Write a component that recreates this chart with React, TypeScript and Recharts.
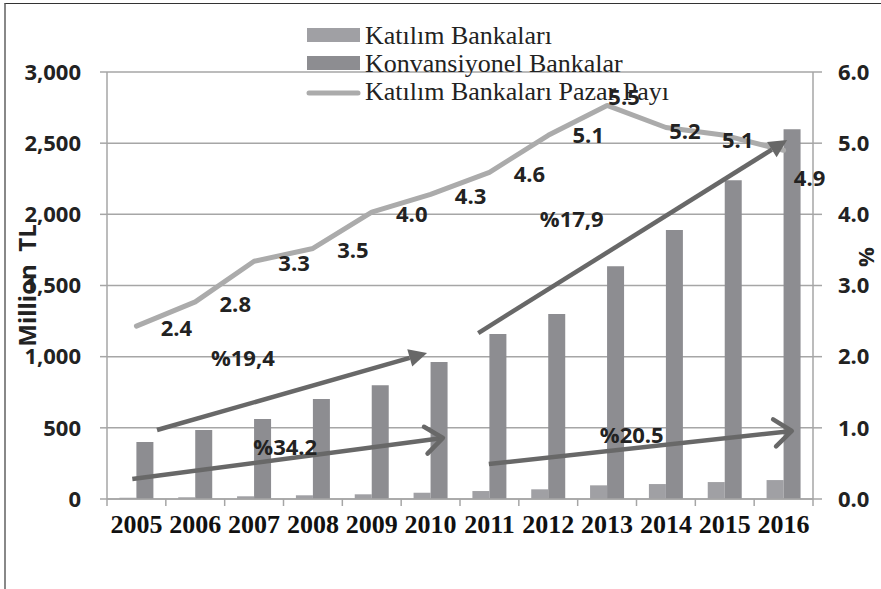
import React from 'react';
import {
  ComposedChart,
  Bar,
  Line,
  XAxis,
  YAxis,
  CartesianGrid,
  Legend,
  ReferenceLine,
  ReferenceDot,
  LabelList,
} from 'recharts';

// chart values
const years = ['2005', '2006', '2007', '2008', '2009', '2010', '2011', '2012', '2013', '2014', '2015', '2016'];
const katilimBankalari = [8, 12, 19, 26, 33, 44, 56, 68, 96, 105, 119, 133];
const konvansiyonelBankalar = [400, 485, 562, 702, 800, 962, 1160, 1300, 1636, 1890, 2240, 2598];
const pazarPayi = [2.43, 2.77, 3.34, 3.52, 4.03, 4.28, 4.59, 5.11, 5.53, 5.22, 5.11, 4.9];
const leftTicks = [0, 500, 1000, 1500, 2000, 2500, 3000];
const rightTicks = [0, 1, 2, 3, 4, 5, 6];

// growth arrows, in (category index, Million TL) units
const growthArrows = [
  { from: [-0.07, 140], to: [5.21, 429], head: 'open', text: '%34.2', at: [2.53, 365] },
  { from: [0.35, 485], to: [4.94, 1026], head: 'solid', text: '%19,4', at: [1.81, 991] },
  { from: [5.81, 1166], to: [11.06, 2522], head: 'solid', text: '%17,9', at: [7.4, 1967] },
  { from: [5.99, 246], to: [11.14, 478], head: 'open', text: '%20.5', at: [8.42, 450] },
];

const data = years.map((year, i) => ({
  year,
  pos: i,
  katilim: katilimBankalari[i],
  konvansiyonel: konvansiyonelBankalar[i],
  pay: pazarPayi[i],
}));

const W = 881;
const H = 589;
const PLOT_LEFT = 107;
const PLOT_RIGHT = 813;
const STEP = (PLOT_RIGHT - PLOT_LEFT) / years.length;

const GRID = '#a6a6a6';
const DARK = '#222';
const SANS = '"Open Sans", "Noto Sans", sans-serif';
const SERIF = '"Liberation Serif", "DejaVu Serif", serif';

// where each share label sits, relative to its point
const LABEL_SHIFT = [
  [40, 2], [40, 2], [40, 2], [40, 2], [40, 2], [40, 2],
  [40, 2], [40, 0], [17, -8], [19, 3], [13, 5], [26, 28],
];

const numStyle = { fontFamily: SANS, fontSize: 22, fontWeight: 700, fill: DARK };

function YearTick(props: any) {
  const { x, y, payload, index } = props;
  const half = STEP / 2;
  return (
    <g>
      <line x1={x - half} x2={x - half} y1={y} y2={y + 7} stroke={GRID} strokeWidth={1.5} />
      {index === years.length - 1 && (
        <line x1={x + half} x2={x + half} y1={y} y2={y + 7} stroke={GRID} strokeWidth={1.5} />
      )}
      <text x={x} y={y + 34} textAnchor="middle" fontFamily={SERIF} fontSize={26} fontWeight={700} fill="#111">
        {payload.value}
      </text>
    </g>
  );
}

function Arrow(props: any) {
  const { x1, y1, x2, y2, head } = props;
  const ang = Math.atan2(y2 - y1, x2 - x1);
  const color = '#686868';
  if (head === 'open') {
    const len = 22;
    const spread = (38 * Math.PI) / 180;
    const ax = x2 - len * Math.cos(ang - spread);
    const ay = y2 - len * Math.sin(ang - spread);
    const bx = x2 - len * Math.cos(ang + spread);
    const by = y2 - len * Math.sin(ang + spread);
    return (
      <g>
        <line x1={x1} y1={y1} x2={x2 - 2 * Math.cos(ang)} y2={y2 - 2 * Math.sin(ang)} stroke={color} strokeWidth={4.5} />
        <polyline points={`${ax},${ay} ${x2},${y2} ${bx},${by}`} fill="none" stroke={color} strokeWidth={4.5} strokeLinecap="round" strokeLinejoin="round" />
      </g>
    );
  }
  const len = 18;
  const hw = 9;
  const bx = x2 - len * Math.cos(ang);
  const by = y2 - len * Math.sin(ang);
  const px = -Math.sin(ang) * hw;
  const py = Math.cos(ang) * hw;
  return (
    <g>
      <line x1={x1} y1={y1} x2={bx} y2={by} stroke={color} strokeWidth={4.5} />
      <polygon points={`${x2},${y2} ${bx + px},${by + py} ${bx - px},${by - py}`} fill={color} />
    </g>
  );
}

function LegendBox(props: any) {
  const items = props.payload || [];
  // bars first, then the share line
  const ordered = [...items.filter((i: any) => i.type !== 'line'), ...items.filter((i: any) => i.type === 'line')];
  return (
    <svg width={420} height={96} style={{ overflow: 'visible', display: 'block' }}>
      {ordered.map((item: any, i: number) => {
        const base = 30 + i * 28;
        return (
          <g key={item.value}>
            {item.type === 'line' ? (
              <line x1={9} x2={58} y1={base - 7} y2={base - 7} stroke={item.color} strokeWidth={5} strokeLinecap="round" />
            ) : (
              <rect x={7} y={base - 16} width={53} height={14} fill={item.color} />
            )}
            <text x={65} y={base} fontFamily={SERIF} fontSize={26} fill={DARK}>
              {item.value}
            </text>
          </g>
        );
      })}
    </svg>
  );
}

export default function App() {
  return (
    <div style={{ position: 'absolute', left: 0, top: 0, width: W, height: H, overflow: 'hidden', background: '#fff' }}>
      <div
        style={{
          position: 'absolute',
          left: 4,
          top: 3,
          width: W + 50,
          height: H + 50,
          borderTop: '1.5px solid #333',
          borderLeft: '2px solid #888',
        }}
      />
      <div style={{ position: 'absolute', left: 0, top: 0 }}>
        <ComposedChart
          width={W}
          height={H}
          data={data}
          margin={{ top: 72, right: 0, bottom: 50, left: 0 }}
          barGap={0}
          barCategoryGap={12.4}
        >
          <CartesianGrid yAxisId="left" vertical={false} stroke={GRID} strokeWidth={1.5} />
          <XAxis
            dataKey="year"
            interval={0}
            height={40}
            tickSize={0}
            tickMargin={0}
            tickLine={false}
            axisLine={{ stroke: GRID, strokeWidth: 1.5 }}
            tick={<YearTick />}
          />
          <XAxis xAxisId="num" type="number" dataKey="pos" domain={[-0.5, 11.5]} allowDataOverflow hide />
          <YAxis
            yAxisId="left"
            width={107}
            domain={[0, 3000]}
            ticks={leftTicks}
            tickSize={7}
            tickMargin={19}
            tickFormatter={(v: number) => v.toLocaleString('en-US')}
            tick={numStyle}
            axisLine={{ stroke: GRID, strokeWidth: 1.5 }}
            tickLine={{ stroke: GRID, strokeWidth: 1.5 }}
            label={{
              content: (p: any) => {
                const vb = p.viewBox;
                const cx = vb.x + 26;
                const cy = vb.y + vb.height / 2;
                return (
                  <text x={cx} y={cy} transform={`rotate(-90 ${cx} ${cy})`} textAnchor="middle" dominantBaseline="central" fontFamily={SANS} fontSize={24} fontWeight={700} fill={DARK} style={{ whiteSpace: 'pre' }}>
                    {'Million  TL'}
                  </text>
                );
              },
            }}
          />
          <YAxis
            yAxisId="right"
            orientation="right"
            width={68}
            domain={[0, 6]}
            ticks={rightTicks}
            tickSize={9}
            tickMargin={16}
            tickFormatter={(v: number) => v.toFixed(1)}
            tick={numStyle}
            axisLine={{ stroke: GRID, strokeWidth: 1.5 }}
            tickLine={{ stroke: GRID, strokeWidth: 1.5 }}
            label={{
              content: (p: any) => {
                const vb = p.viewBox;
                const cx = vb.x + 52;
                const cy = 257;
                return (
                  <text x={cx} y={cy} transform={`rotate(-90 ${cx} ${cy})`} textAnchor="middle" dominantBaseline="central" fontFamily={SANS} fontSize={22} fontWeight={700} fill={DARK}>
                    %
                  </text>
                );
              },
            }}
          />
          <Bar yAxisId="left" dataKey="katilim" name="Katılım Bankaları" fill="#a0a0a4" isAnimationActive={false} />
          <Bar yAxisId="left" dataKey="konvansiyonel" name="Konvansiyonel Bankalar" fill="#8d8d91" isAnimationActive={false} />
          <Line
            yAxisId="right"
            dataKey="pay"
            name="Katılım Bankaları Pazar Payı"
            type="linear"
            stroke="#ababab"
            strokeWidth={5}
            strokeLinecap="round"
            strokeLinejoin="round"
            dot={false}
            activeDot={false}
            legendType="line"
            isAnimationActive={false}
          >
            <LabelList
              dataKey="pay"
              content={(p: any) => {
                const [dx, dy] = LABEL_SHIFT[p.index] || [40, 2];
                return (
                  <text x={p.x + dx} y={p.y + dy + 8} textAnchor="middle" fontFamily={SANS} fontSize={22} fontWeight={700} fill={DARK}>
                    {Number(p.value).toFixed(1)}
                  </text>
                );
              }}
            />
          </Line>
          {growthArrows.map((a) => (
            <ReferenceLine
              key={a.text}
              xAxisId="num"
              yAxisId="left"
              ifOverflow="visible"
              segment={[
                { x: a.from[0], y: a.from[1] },
                { x: a.to[0], y: a.to[1] },
              ]}
              shape={(p: any) => <Arrow {...p} head={a.head} />}
            />
          ))}
          {growthArrows.map((a) => (
            <ReferenceDot
              key={`t${a.text}`}
              xAxisId="num"
              yAxisId="left"
              x={a.at[0]}
              y={a.at[1]}
              r={0}
              ifOverflow="visible"
              shape={(p: any) => (
                <text x={p.cx} y={p.cy + 8} textAnchor="middle" fontFamily={SANS} fontSize={22} fontWeight={700} fill={DARK}>
                  {a.text}
                </text>
              )}
            />
          ))}
          <Legend
            layout="vertical"
            align="center"
            verticalAlign="middle"
            content={<LegendBox />}
            wrapperStyle={{ position: 'absolute', left: 300, top: 14, width: 420, height: 96 }}
          />
        </ComposedChart>
      </div>
    </div>
  );
}
